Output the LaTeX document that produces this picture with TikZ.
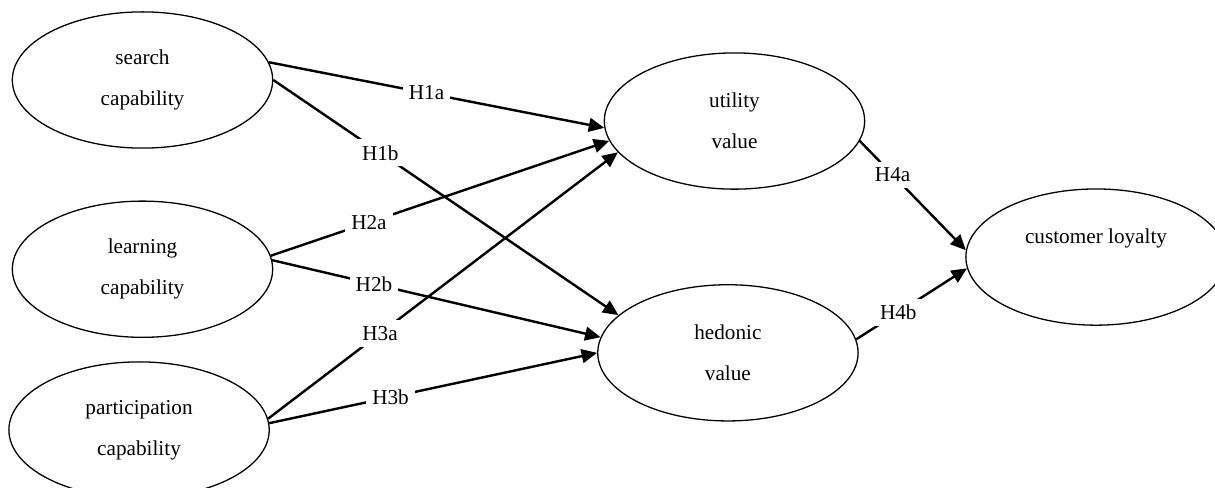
\documentclass[tikz,border=0pt]{standalone}
\usepackage{fontspec}
\setmainfont{Liberation Serif}
\usetikzlibrary{positioning,arrows.meta,shapes.geometric}

\tikzset{
  construct/.style={ellipse, draw, line width=0.75pt, minimum width=151pt, minimum height=79pt,
    inner sep=0pt, align=center, font=\fontsize{12.3}{24}\selectfont},
  hyp/.style={line width=1.4pt, -{Triangle[length=9pt,width=8pt]}},
  hlabel/.style={fill=white, inner sep=3.5pt, font=\fontsize{12.3}{14}\selectfont},
}

\begin{document}
\begin{tikzpicture}
\useasboundingbox (0,0) rectangle (704.7pt,-283.04pt);

\node[construct] (search) at (82.65pt,-46.4pt) {search\\capability};
\node[construct, below=30pt of search] (learning) {learning\\capability};
\node[construct, below=13.5pt of learning, xshift=-2pt] (participation) {participation\\capability};
\node[construct] (utility) at (426pt,-70.2pt) {utility\\value};
\node[construct, below=54.7pt of utility, xshift=-3.8pt] (hedonic) {hedonic\\value};
\node[construct] (loyalty) at (635.7pt,-149.1pt) {customer loyalty\\\mbox{}};

\draw[hyp] (search.8) -- node[hlabel, pos=0.47] {H1a} (utility.183);
\draw[hyp] (search.0) -- node[hlabel, pos=0.31] {H1b} (hedonic.161);
\draw[hyp] (learning.6) -- node[hlabel, pos=0.29] {H2a} (utility.189);
\draw[hyp] (learning.4) -- node[hlabel, pos=0.31] {H2b} (hedonic.173);
\draw[hyp] (participation.5) -- node[hlabel, pos=0.32] {H3a} (utility.195);
\draw[hyp] (participation.3) -- node[hlabel, pos=0.37] {H3b} (hedonic.180);
\draw[hyp] (utility.-9) -- node[hlabel, pos=0.31] {H4a} (loyalty.177);
\draw[hyp] (hedonic.6) -- node[hlabel, pos=0.38] {H4b} (loyalty.185);
\end{tikzpicture}
\end{document}
